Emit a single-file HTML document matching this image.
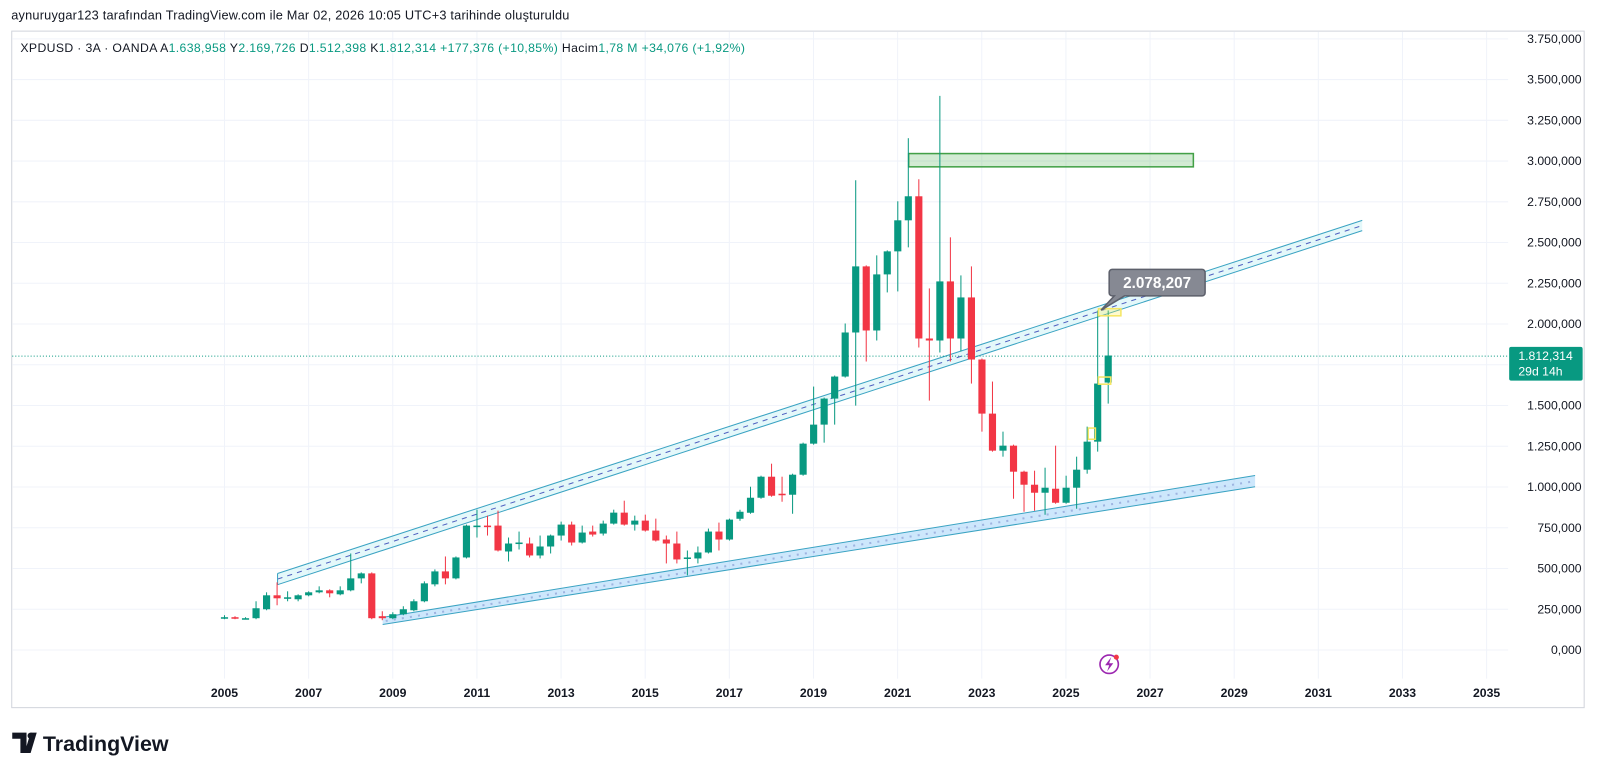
<!DOCTYPE html>
<html><head><meta charset="utf-8"><style>
body{margin:0;width:1600px;height:776px;background:#fff;font-family:"Liberation Sans",sans-serif;overflow:hidden}
svg{position:absolute;left:0;top:0}
</style></head><body>
<svg id="s" width="1600" height="776" xmlns="http://www.w3.org/2000/svg"></svg>
<script>
const S=document.getElementById('s');let h='';
const G='#089981',R='#f23645';
h+='<rect x="11.5" y="30.5" width="1541" height="663" fill="none" stroke="#d1d4dc"/>';
for(let i=0;i<=15;i++){const y=637-i*39.93;const v=i*250000;
 h+=`<line x1="12" x2="1478" y1="${y}" y2="${y}" stroke="#f0f3fa"/>`;
 let parts=v>=1e6?(Math.floor(v/1e6)+'.'+String((v%1e6)/1000).padStart(3,'0')+',000'):((v/1000)===0?'0,000':(v/1000)+',000');
 h+=`<text x="1550" y="${y+4}" font-size="12" text-anchor="end" fill="#131722">${parts}</text>`;}
for(let yr=2005;yr<=2035;yr+=2){const x=220+(yr-2005)*41.23;
 h+=`<line x1="${x}" x2="${x}" y1="31" y2="665" stroke="#f0f3fa"/>`;
 h+=`<text x="${x}" y="683" font-size="12" font-weight="bold" text-anchor="middle" fill="#131722">${yr}</text>`;}
h+='<rect x="890.5" y="150.5" width="279" height="13" fill="rgba(76,175,80,0.25)" stroke="#43a047" stroke-width="1.5"/>';
h+='<polygon points="375,605 1230,466 1230,477 375,612" fill="rgba(144,202,249,0.45)"/>';
h+='<line x1="375" y1="605" x2="1230" y2="466" stroke="#3aa3c2"/><line x1="375" y1="612" x2="1230" y2="477" stroke="#3aa3c2"/>';
h+='<line x1="378" y1="608.5" x2="1230" y2="471.5" stroke="#9fb4e0" stroke-width="2" stroke-dasharray="2,6"/>';
h+='<polygon points="272,562 1335,216 1335,226 272,573" fill="rgba(178,235,242,0.35)"/>';
h+='<line x1="272" y1="562" x2="1335" y2="216" stroke="#3aa3c2"/><line x1="272" y1="573" x2="1335" y2="226" stroke="#3aa3c2"/>';
h+='<line x1="272" y1="567.5" x2="1335" y2="221" stroke="#5060c0" stroke-width="1" stroke-dasharray="5,5"/>';
h+='<line x1="272" y1="562" x2="272" y2="573" stroke="#3aa3c2"/>';
h+='<line x1="12" x2="1478" y1="349" y2="349" stroke="#089981" stroke-dasharray="1,2"/>';
const A=[[620,619,617,621],[619,620,618,621],[620,620,619,621],[620,610,603,621],[611,597,594,612],[597,600,584,607],[600,599,593,603],[601,597,596,603],[597,594,593,598],[594,592,588,595],[592,595,591,599],[596,592,588,597],[592,580,555,593],[580,575,574,585],[575,620,574,621],[618,620,613,622],[620,616,614,621],[616,611,608,617],[612,603,601,613],[603,585,583,604],[586,573,571,588],[573,580,558,586],[580,559,558,581],[559,527,526,560],[527,527,511,539],[527,528,517,537],[527,552,512,553],[553,545,539,563],[544,544,533,551],[545,557,539,559],[557,548,537,560],[548,537,536,555],[537,526,523,542],[526,544,523,547],[544,534,527,545],[533,536,527,538],[535,525,522,537],[525,514,511,526],[514,526,502,527],[526,522,517,532],[522,532,516,533],[532,542,520,543],[541,545,537,565],[545,561,533,565],[559,559,552,577],[560,554,548,565],[554,533,530,555],[533,541,524,552],[541,521,520,542]];
const B=[[520,513,511,522],[514,499,488,515],[499,478,477,500],[478,497,465,498],[495,495,478,503],[496,476,475,515],[476,445,444,477],[445,426,388,446],[426,400,399,444],[400,378,377,426],[378,334,325,379],[334,268,182,407],[268,332,267,363],[332,276,257,342],[276,253,252,294],[253,222,203,293],[222,198,140,249],[198,340,181,349],[340,342,290,402],[342,283,-1,354],[283,340,239,363],[340,299,277,353],[299,361,268,385],[361,415,360,433],[415,452,383,453],[452,447,433,458],[447,473,446,500],[473,486,472,513],[486,494,472,512],[494,489,469,516],[490,504,447,505],[504,489,477,505],[489,471,458,510],[471,443,428,475],[443,385,312,453],[384,357,312,405]];
const c1=r=>437+(r-447)*0.976, c2=r=>158+(r-163)*0.9815;
function cd(i,o,c,hi,lo){const x=220+i*10.31;const col=c<o?G:(c>o?R:(i%2?R:G));
 const t=Math.min(o,c),b=Math.max(o,c,t+1.5);
 h+=`<line x1="${x}" x2="${x}" y1="${hi}" y2="${lo}" stroke="${col}" stroke-width="1"/>`;
 h+=`<rect x="${x-3.5}" y="${t}" width="7" height="${b-t}" fill="${col}"/>`;}
A.forEach((d,i)=>cd(i,c1(d[0]),c1(d[1]),c1(d[2]),c1(d[3])));
B.forEach((d,j)=>{const i=49+j;cd(i,c2(d[0]),c2(d[1]),d[2]<0?94:c2(d[2]),c2(d[3]));});
h+='<rect x="1076.5" y="302.5" width="22" height="7" fill="rgba(255,235,59,0.25)" stroke="#f5e663" stroke-width="1.5"/>';
h+='<rect x="1076.5" y="369.5" width="12" height="7" fill="none" stroke="#f5e663" stroke-width="1.5"/>';
h+='<rect x="1066.5" y="419.5" width="7" height="11" fill="none" stroke="#f5e663" stroke-width="1.5"/>';
h+='<path d="M1092,264 H1178 a3,3 0 0 1 3,3 V287 a3,3 0 0 1 -3,3 H1102 L1079,304 L1092,290 H1090 a3,3 0 0 1 -3,-3 V267 a3,3 0 0 1 3,-3Z" fill="#868993" stroke="#5d606b" stroke-width="1.5"/>';
h+='<text x="1134" y="282" font-size="15" font-weight="bold" fill="#fff" text-anchor="middle">2.078,207</text>';
h+='<rect x="1479" y="340" width="72" height="33" rx="2" fill="#089981"/>';
h+='<text x="1488" y="353" font-size="12" fill="#fff">1.812,314</text><text x="1488" y="368" font-size="12" fill="#fff">29d 14h</text>';
h+='<circle cx="1087" cy="651" r="9" fill="none" stroke="#9c27b0" stroke-width="1.6"/><path d="M1089,644 L1083,652 H1087 L1085,658 L1091,650 H1087Z" fill="#9c27b0"/><circle cx="1094" cy="644" r="2.5" fill="#f23645"/>';
h+='<text x="11" y="19" font-size="12.5" fill="#131722" textLength="547" lengthAdjust="spacing">aynuruygar123 tarafından TradingView.com ile Mar 02, 2026 10:05 UTC+3 tarihinde oluşturuldu</text>';
h+='<text x="20" y="51" font-size="12" fill="#131722" textLength="710" lengthAdjust="spacing">XPDUSD · 3A · OANDA  A<tspan fill="#089981">1.638,958</tspan>  Y<tspan fill="#089981">2.169,726</tspan>  D<tspan fill="#089981">1.512,398</tspan>  K<tspan fill="#089981">1.812,314  +177,376 (+10,85%)</tspan>  Hacim<tspan fill="#089981">1,78 M  +34,076 (+1,92%)</tspan></text>';
h+='<path d="M12,718 H26 V738 H20 V724 H12Z M30,718 h6 l-6,20 h-6Z" fill="#131722"/><circle cx="30" cy="721" r="3" fill="#131722"/>';
h+='<text x="42" y="736" font-size="21" font-weight="bold" fill="#131722">TradingView</text>';
S.innerHTML='<g transform="scale(1.0204)">'+h+'</g>';
</script>
</body></html>
